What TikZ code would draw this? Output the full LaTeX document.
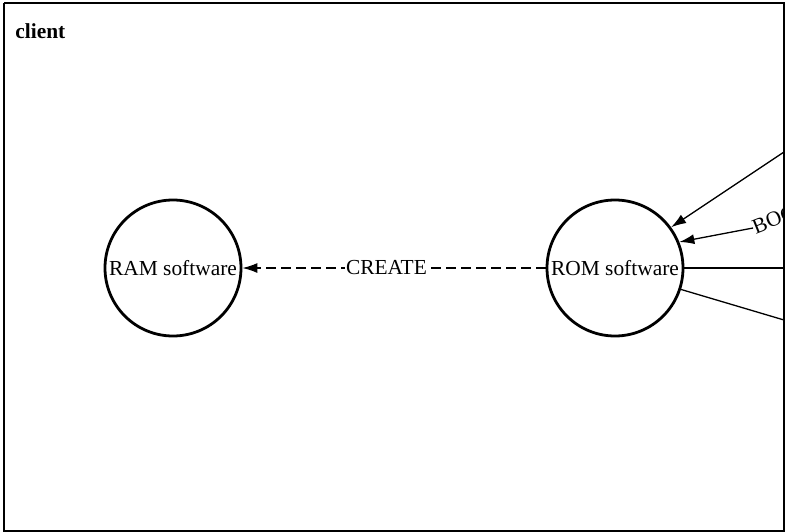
\documentclass[tikz,border=0pt]{standalone}
\usepackage{fontspec}
\setmainfont{Liberation Serif}
\usetikzlibrary{arrows.meta}
\begin{document}
\begin{tikzpicture}[x=0.5pt,y=-0.5pt,
  every node/.style={font=\fontsize{10.7}{13}\selectfont},
  state/.style={circle,draw,line width=1.4pt,minimum size=68pt,inner sep=0pt},
  conn/.style={line width=0.65pt},
  tip/.style={-{Latex[length=7.5pt,width=5pt]}},
  lbl/.style={fill=white,inner sep=0.6pt}]
\useasboundingbox (0,0) rectangle (786,531);
\draw[line width=1.1pt] (4,3) -- (784,3) -- (784,534) (4,3) -- (4,534) (4,531) -- (784,531);
\node[anchor=base west,inner sep=0pt,font=\fontsize{10.7}{13}\selectfont\bfseries] (title) at (15,38) {client};
\node[state] (ram) at (173,268) {RAM software};
\node[state] (rom) at (615,268) {ROM software};
\draw[conn,tip,dash pattern=on 5pt off 2.5pt] (rom) -- node[lbl,pos=0.525] (create) {CREATE} (ram);
\coordinate (r1) at (784,152);
\coordinate (r3) at (784,268);
\coordinate (r4) at (784,320);
\draw[conn,tip] (r1) -- (rom.36);
\begin{scope}
\clip (0,0) rectangle (783.5,531);
\node[lbl,anchor=west,rotate=22,inner sep=0pt] (boot) at (753,228) {BOOT};
\end{scope}
\draw[conn,tip] (boot.west) -- (rom.22);
\draw[conn] (rom.east) -- (r3);
\draw[conn] (rom.-18) -- (r4);
\draw[line width=1.1pt] (784,3) -- (784,534);
\end{tikzpicture}
\end{document}
